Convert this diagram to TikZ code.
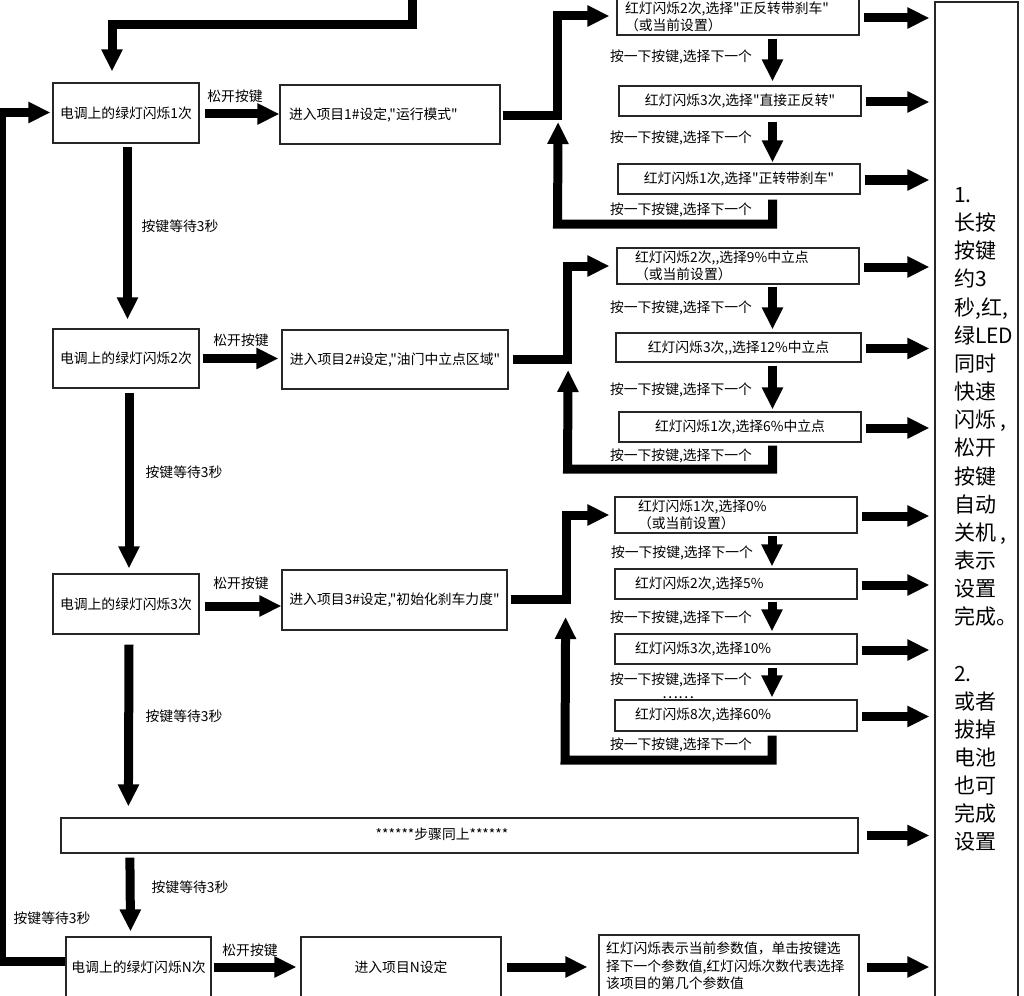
\documentclass[tikz,border=0pt]{standalone}
\usepackage{fontspec}
\setmainfont{Noto Sans CJK SC}[Ligatures=TeXOff]
\usetikzlibrary{arrows.meta,calc}
\newcommand\fs{\fontsize{13.8}{16.5}\selectfont}
\newcommand\fsn{\fontsize{13.8}{17.5}\selectfont}
\newcommand\fbig{\fontsize{21}{28}\selectfont}
\begin{document}
\begin{tikzpicture}[x=1pt,y=-1pt,
  box/.style={draw=black!85, line width=1.2pt, inner sep=0pt, font=\fs, align=center},
  lbox/.style={box, align=left},
  conn/.style={line width=9pt, line join=miter},
  arr/.style={conn, -{Triangle[length=22pt,width=20pt]}},
  lbl/.style={font=\fs, inner sep=0pt, text height=11pt, text depth=2pt},
  big/.style={font=\fbig, inner sep=0pt, text height=18pt, text depth=3pt, anchor=west}]
\useasboundingbox (0,0) rectangle (1024,995);
\clip (0,0) rectangle (1024,995);

% left column
\node[box, minimum width=146pt, minimum height=60pt] (g1) at (126,113) {电调上的绿灯闪烁1次};
\node[box, minimum width=146pt, minimum height=59pt] (g2) at (126,358.5) {电调上的绿灯闪烁2次};
\node[box, minimum width=146pt, minimum height=60pt] (g3) at (126,604) {电调上的绿灯闪烁3次};
\node[box, minimum width=145pt, minimum height=60pt] (gN) at (138.5,967) {电调上的绿灯闪烁N次};

% item boxes
\node[lbox, text width=202pt, inner xsep=9pt, minimum height=59pt] (p1) at (390,114.5) {进入项目1\#设定,"运行模式"};
\node[box, minimum width=226pt, minimum height=59pt] (p2) at (395,359.5) {进入项目2\#设定,"油门中立点区域"};
\node[box, minimum width=225pt, minimum height=60pt] (p3) at (394.5,600) {进入项目3\#设定,"初始化刹车力度"};
\node[box, minimum width=200pt, minimum height=60pt] (pN) at (401,967) {进入项目N设定};

% same-steps box
\node[box, minimum width=797pt, minimum height=35pt] (s) at (459.5,835.5) {};
\node[lbl] (stext) at (442,835) {******步骤同上******};

% options item 1
\node[lbox, text width=226pt, inner xsep=8pt, minimum height=36pt] (a1) at (738,17) {红灯闪烁2次,选择"正反转带刹车"\\（或当前设置）};
\node[box, minimum width=242pt, minimum height=30pt] (a2) at (740,101) {红灯闪烁3次,选择"直接正反转"};
\node[box, minimum width=242pt, minimum height=30pt] (a3) at (739,179) {红灯闪烁1次,选择"正转带刹车"};
% options item 2
\node[lbox, text width=206pt, inner xsep=18pt, minimum height=36pt] (b1) at (738,266) {红灯闪烁2次,,选择9\%中立点\\（或当前设置）};
\node[box, minimum width=245pt, minimum height=29pt] (b2) at (738.5,347.5) {红灯闪烁3次,,选择12\%中立点};
\node[box, minimum width=242pt, minimum height=30pt] (b3) at (740,427) {红灯闪烁1次,选择6\%中立点};
% options item 3
\node[lbox, text width=196pt, inner xsep=23pt, minimum height=36pt] (c1) at (736,515) {红灯闪烁1次,选择0\%\\（或当前设置）};
\node[lbox, text width=202pt, inner xsep=20pt, minimum height=30pt] (c2) at (736,584) {红灯闪烁2次,选择5\%};
\node[lbox, text width=202pt, inner xsep=20pt, minimum height=30pt] (c3) at (736,649) {红灯闪烁3次,选择10\%};
\node[lbox, text width=202pt, inner xsep=20pt, minimum height=31pt] (c4) at (736,715.5) {红灯闪烁8次,选择60\%};
% item N
\node[lbox, text width=246pt, inner xsep=7pt, minimum height=62pt, font=\fsn] (n3) at (729,966) {红灯闪烁表示当前参数值，单击按键选\\择下一个参数值,红灯闪烁次数代表选择\\该项目的第几个参数值};

% right box
\node[box, minimum width=83pt, minimum height=1000pt] (R) at (976.5,502) {};
\foreach \t [count=\i from 0] in {1.,长按,按键,约3,{秒,红,},绿LED,同时,快速,{闪烁 ,},松开,按键,自动,{关机 ,},表示,设置,完成。,{},2.,或者,拔掉,电池,也可,完成,设置}
  \node[big] (rt\i) at (954,{195+28.15*\i}) {\t};

% top incoming connector
\coordinate (topin) at (412.5,-10);
\draw[arr] (topin) -- (412.5,24.5) -- (112,24.5) -- ($(g1.north)+(-14,-11)$);

% release arrows
\draw[arr] ($(g1.east)+(5,1)$) -- ($(p1.west)+(0,-0.5)$);
\draw[arr] ($(g2.east)+(3,0)$) -- ($(p2.west)+(-3,-1)$);
\draw[arr] ($(g3.east)+(5,2)$) -- ($(p3.west)+(0,6)$);
\draw[arr] ($(gN.east)+(2,0)$) -- ($(pN.west)+(-4,0)$);
\node[lbl] (rel1) at (235,97) {松开按键};
\node[lbl] (rel2) at (241,341) {松开按键};
\node[lbl] (rel3) at (241,584) {松开按键};
\node[lbl] (relN) at (250,951) {松开按键};

% wait arrows
\draw[arr] ($(g1.south)+(1.5,3)$) -- ($(g2.north)+(1.5,-9)$);
\draw[arr] ($(g2.south)+(3,4)$) -- ($(g3.north)+(3,-5)$);
\draw[arr] ($(g3.south)+(3,10)$) -- ($(s.north west)+(68,-11)$);
\draw[arr] ($(s.south west)+(69.5,4)$) -- ($(gN.north)+(-8,-5)$);
\node[lbl] (w1) at (180,227) {按键等待3秒};
\node[lbl] (w2) at (184,473) {按键等待3秒};
\node[lbl] (w3) at (184,717) {按键等待3秒};
\node[lbl] (w4) at (190,888) {按键等待3秒};
\node[lbl] (w5) at (52,919) {按键等待3秒};

% left loop
\draw[arr] ($(gN.west)+(0,-6)$) -- (1,961) -- (1,112.5) -- ($(g1.west)+(-2,-0.5)$);

% item 1 fork and chain
\draw[arr] ($(p1.east)+(2,1.5)$) -| (557.5,16) -- ($(a1.west)+(-7,-1)$);
\draw[arr] ($(a1.south)+(34.5,3)$) -- ($(a2.north)+(32.5,-4)$);
\draw[arr] ($(a2.south)+(32.5,5)$) -- ($(a3.north)+(33.5,-1)$);
\draw[arr] ($(a3.south)+(33.5,5)$) |- (557.5,224) -- ($(p1.east)+(57.5,7.5)$);
\node[lbl] (la1) at (681,57) {按一下按键,选择下一个};
\node[lbl] (la2) at (681,138) {按一下按键,选择下一个};
\node[lbl] (la3) at (681,210) {按一下按键,选择下一个};

% item 2 fork and chain
\draw[arr] ($(p2.east)+(4,-0.5)$) -| (567,266) -- ($(b1.west)+(-7,0)$);
\draw[arr] ($(b1.south)+(34.5,2)$) -- ($(b2.north)+(34,-3)$);
\draw[arr] ($(b2.south)+(34,3)$) -- ($(b3.north)+(32.5,-2)$);
\draw[arr] ($(b3.south)+(32.5,3)$) |- (567.5,469) -- ($(p2.east)+(59.5,10.5)$);
\node[lbl] (lb1) at (681,308) {按一下按键,选择下一个};
\node[lbl] (lb2) at (681,390) {按一下按键,选择下一个};
\node[lbl] (lb3) at (681,456) {按一下按键,选择下一个};

% item 3 fork and chain
\draw[arr] ($(p3.east)+(3,-1)$) -| (566,515) -- ($(c1.west)+(-5,0)$);
\draw[arr] ($(c1.south)+(36,2)$) -- ($(c2.north)+(36,-2)$);
\draw[arr] ($(c2.south)+(36,2)$) -- ($(c3.north)+(36,-2)$);
\draw[arr] ($(c3.south)+(36,3)$) -- ($(c4.north)+(36,-2)$);
\draw[arr] ($(c4.south)+(36,4)$) |- (565,760) -- ($(p3.east)+(58,17)$);
\node[lbl] (lc1) at (682,553) {按一下按键,选择下一个};
\node[lbl] (lc2) at (681,618) {按一下按键,选择下一个};
\node[lbl] (lc3) at (681,680) {按一下按键,选择下一个};
\node[lbl] (lc4) at (681,745) {按一下按键,选择下一个};
\node[font=\fontsize{15}{15}\selectfont, inner sep=0pt, anchor=base] (dots) at (678,698.5) {……};

% item N
\draw[arr] ($(pN.east)+(5,0)$) -- ($(n3.west)+(-11,1)$);

% arrows to right box
\foreach \b in {a1,a2,a3,b1,b2,b3,c1,c2,c3,c4}
  \draw[arr] ($(\b.east)+(4,1)$) -- ($(\b.east -| R.west)+(-5,1)$);
\draw[arr] ($(s.east)+(8,0)$) -- ($(s.east -| R.west)+(-5,0)$);
\draw[arr] ($(n3.east)+(7,1)$) -- ($(n3.east -| R.west)+(-5,1)$);
\end{tikzpicture}
\end{document}
